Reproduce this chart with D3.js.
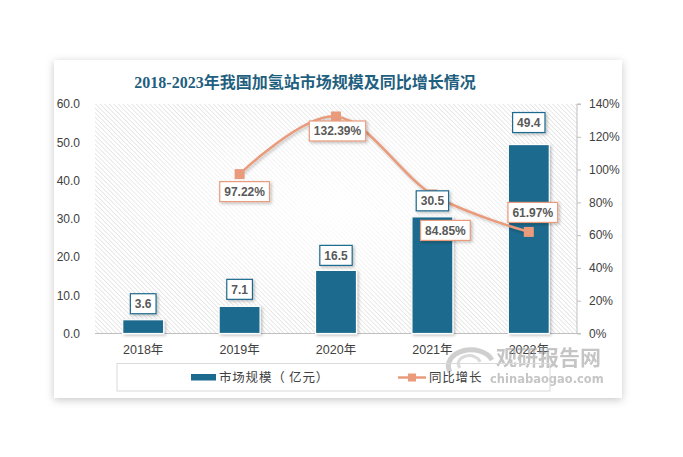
<!DOCTYPE html>
<html><head><meta charset="utf-8">
<script src="https://cdn.jsdelivr.net/npm/d3@7/dist/d3.min.js"></script>
<style>html,body{margin:0;padding:0;background:#fff;}svg{display:block;}</style>
</head><body>
<svg id="c" width="683" height="457"></svg>
<script>
const title = "2018-2023年我国加氢站市场规模及同比增长情况";
const categories = ["2018年","2019年","2020年","2021年","2022年"];
const marketSize = [3.6, 7.1, 16.5, 30.5, 49.4];
const growth = [null, 97.22, 132.39, 84.85, 61.97];
const leftTicks = [0,10,20,30,40,50,60];
const rightTicks = [0,20,40,60,80,100,120,140];
const seriesNames = ["市场规模（ 亿元）","同比增长"];

// layout (not data)
const barLabelGap = [6, 7, 5, 6, 12];
const pctLabelOffset = [[0,0],[5,17.5],[1.5,14.5],[13,36],[4,-19.5]];

const BLUE = "#1c6a8e", SALMON = "#e99b7c", TXT = "#404040", LBL = "#595959";
const svg = d3.select("#c");
const defs = svg.append("defs");

const sh = defs.append("filter").attr("id","card").attr("x","-10%").attr("y","-10%").attr("width","120%").attr("height","120%");
sh.append("feDropShadow").attr("dx",0).attr("dy",2).attr("stdDeviation",4).attr("flood-color","#000").attr("flood-opacity",0.22);
const ds = defs.append("filter").attr("id","ds").attr("x","-30%").attr("y","-30%").attr("width","160%").attr("height","160%");
ds.append("feDropShadow").attr("dx",1.5).attr("dy",1.5).attr("stdDeviation",1.5).attr("flood-color","#000").attr("flood-opacity",0.25);

const pat = defs.append("pattern").attr("id","hatch").attr("patternUnits","userSpaceOnUse")
  .attr("width",3.2).attr("height",3.2).attr("patternTransform","rotate(-45)");
pat.append("rect").attr("width",3.2).attr("height",3.2).attr("fill","#fff");
pat.append("line").attr("x1",0).attr("y1",0).attr("x2",0).attr("y2",3.2).attr("stroke","#d6d6d6").attr("stroke-width",1.1);
const rg = defs.append("radialGradient").attr("id","glow").attr("cx","50%").attr("cy","45%").attr("r","50%");
rg.append("stop").attr("offset","0%").attr("stop-color","#fff").attr("stop-opacity",0.9);
rg.append("stop").attr("offset","55%").attr("stop-color","#fff").attr("stop-opacity",0.5);
rg.append("stop").attr("offset","100%").attr("stop-color","#fff").attr("stop-opacity",0);

// card
svg.append("rect").attr("x",54).attr("y",60).attr("width",568).attr("height",338).attr("fill","#fff").attr("filter","url(#card)");

// title
svg.append("text").attr("x",305).attr("y",88).attr("text-anchor","middle")
  .attr("font-family","'Liberation Serif','Noto Sans CJK SC',serif").attr("font-weight","bold")
  .attr("font-size",16).attr("fill","#1f5f80").text(title);

const L = 95, R = 577, T = 104, B = 333.5;
const x = d3.scaleBand().domain(categories).range([L,R]).paddingInner(0.575).paddingOuter(0.2875);
const y = d3.scaleLinear().domain([0,60]).range([B,T]);
const y2 = d3.scaleLinear().domain([0,140]).range([B,T]);

svg.append("rect").attr("x",L).attr("y",T).attr("width",R-L).attr("height",B-T).attr("fill","url(#hatch)");
svg.append("rect").attr("x",L).attr("y",T).attr("width",R-L).attr("height",B-T).attr("fill","url(#glow)");

const fontLbl = "'Liberation Sans','Noto Sans CJK SC',sans-serif";
const gl = svg.append("g").attr("transform",`translate(${L},0)`)
  .call(d3.axisLeft(y).tickValues(leftTicks).tickFormat(d3.format(".1f")).tickSize(0).tickPadding(15));
gl.select(".domain").remove();
gl.selectAll("text").attr("font-family",fontLbl).attr("font-size",12).attr("fill",TXT);

const gr = svg.append("g").attr("transform",`translate(${R},0)`)
  .call(d3.axisRight(y2).tickValues(rightTicks).tickFormat(d=>d+"%").tickSize(4).tickPadding(8));
gr.select(".domain").attr("stroke","#bfbfbf").attr("d",`M4,${T}H0V${B}H4`);
gr.selectAll(".tick line").attr("stroke","#bfbfbf");
gr.selectAll("text").attr("font-family",fontLbl).attr("font-size",12).attr("fill",TXT);

const gb = svg.append("g").attr("transform",`translate(0,${B})`)
  .call(d3.axisBottom(x).tickSize(0).tickPadding(12));
gb.select(".domain").attr("stroke","#bfbfbf").attr("d",`M${L},0H${R}`);
gb.selectAll("text").attr("font-family",fontLbl).attr("font-size",12.5).attr("fill",TXT);

svg.append("g").selectAll("rect").data(marketSize).join("rect")
  .attr("x",(d,i)=>x(categories[i])).attr("width",x.bandwidth())
  .attr("y",d=>y(d)).attr("height",d=>B-y(d))
  .attr("fill",BLUE).attr("stroke","#fff").attr("stroke-width",1.2).attr("filter","url(#ds)");

const pts = growth.map((g,i)=>g==null?null:[x(categories[i])+x.bandwidth()/2, y2(g)]).filter(p=>p);
svg.append("path").attr("d",d3.line().curve(d3.curveCardinal)(pts))
  .attr("fill","none").attr("stroke",SALMON).attr("stroke-width",2.5).attr("filter","url(#ds)");
svg.append("g").selectAll("rect").data(pts).join("rect")
  .attr("x",p=>p[0]-5).attr("y",p=>p[1]-5).attr("width",10).attr("height",10).attr("fill",SALMON);

function box(cx, cy, txt, border){
  const g = svg.append("g");
  const t = g.append("text").attr("x",cx).attr("y",cy+4.3).attr("text-anchor","middle")
    .attr("font-family",fontLbl).attr("font-weight","bold").attr("font-size",12).attr("fill",LBL).text(txt);
  const w = t.node().getComputedTextLength()+9;
  g.insert("rect","text").attr("x",cx-w/2).attr("y",cy-10).attr("width",w).attr("height",20)
    .attr("fill","#fff").attr("stroke",border).attr("stroke-width",1.2).attr("filter","url(#ds)");
}
growth.forEach((g,i)=>{ if(g==null) return;
  const cx = x(categories[i])+x.bandwidth()/2 + pctLabelOffset[i][0];
  const cy = y2(g) + pctLabelOffset[i][1];
  box(cx, cy, d3.format(".2f")(g)+"%", SALMON);
});
marketSize.forEach((v,i)=>{
  const cx = x(categories[i])+x.bandwidth()/2;
  const cy = y(v) - barLabelGap[i] - 10;
  box(cx, cy, d3.format(".1f")(v), BLUE);
});

// watermark
const wm = svg.append("g").attr("opacity",0.6);
wm.append("path").attr("d","M450,372 A21,15 0 1 1 492,360").attr("fill","none").attr("stroke","#b0b0b0").attr("stroke-width",5);
wm.append("path").attr("d","M460,368 A11,8 0 1 1 480,362").attr("fill","none").attr("stroke","#c4c4c4").attr("stroke-width",3);
wm.append("text").attr("x",496).attr("y",365).attr("font-family","'Noto Sans CJK SC',sans-serif").attr("font-weight","bold")
  .attr("font-size",21).attr("fill","#a0a0a0").text("观研报告网");
wm.append("text").attr("x",490).attr("y",383).attr("font-family","'DejaVu Sans',sans-serif").attr("font-weight","bold")
  .attr("font-size",11.5).attr("fill","#a0a0a0").text("chinabaogao.com");

// legend
svg.append("rect").attr("x",117).attr("y",363.5).attr("width",433).attr("height",27.5).attr("fill","none").attr("stroke","#d9d9d9");
svg.append("rect").attr("x",191).attr("y",374).attr("width",25).attr("height",6.5).attr("fill",BLUE);
svg.append("text").attr("x",219).attr("y",382).attr("font-family","'Noto Sans CJK SC',sans-serif").attr("font-size",12.5)
  .attr("letter-spacing",0.8).attr("fill",TXT).text(seriesNames[0]);
svg.append("line").attr("x1",398).attr("x2",426).attr("y1",377.5).attr("y2",377.5).attr("stroke",SALMON).attr("stroke-width",2.5);
svg.append("rect").attr("x",408).attr("y",373.5).attr("width",8).attr("height",8).attr("fill",SALMON);
svg.append("text").attr("x",429).attr("y",382).attr("font-family","'Noto Sans CJK SC',sans-serif").attr("font-size",12.5)
  .attr("letter-spacing",0.8).attr("fill",TXT).text(seriesNames[1]);
</script>
</body></html>
